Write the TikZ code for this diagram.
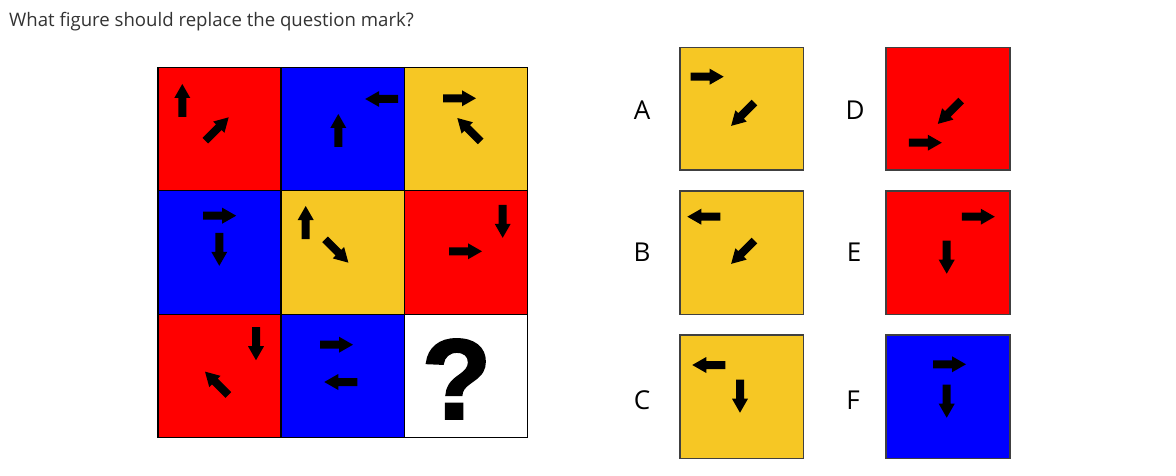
\documentclass[tikz,border=0pt]{standalone}
\usepackage{fontspec}
\setmainfont{Open Sans}
\newfontfamily\qfont[BoldFeatures={FakeBold=2}]{Liberation Sans}
\definecolor{cred}{HTML}{FF0000}
\definecolor{cblue}{HTML}{0000FF}
\definecolor{cyel}{HTML}{F6C724}
\definecolor{ctitle}{HTML}{333333}
\newcommand\arw[3]{\fill[black,shift={(#1,#2)},rotate=#3] (-16.5,-4)--(2.5,-4)--(2.5,-8)--(16.5,0)--(2.5,8)--(2.5,4)--(-16.5,4)--cycle;}
\begin{document}
\begin{tikzpicture}[x=1pt,y=-1pt,
  cell/.style={draw=black,line width=1.6pt},
  opt/.style={draw=black!75,line width=1.4pt},
  lab/.style={font=\fontsize{26}{26}\selectfont},
]
\useasboundingbox (0,0) rectangle (1176,476);
\fill[white] (0,0) rectangle (1176,476);
\node[anchor=west,text=ctitle,font=\fontsize{18.6}{20}\selectfont,inner sep=0pt] (title) at (9,22) {What figure should replace the question mark?};
% grid cells
\fill[cred]  (158,67.5) rectangle (281,190.7);
\fill[cblue] (281,67.5) rectangle (404.5,190.7);
\fill[cyel]  (404.5,67.5) rectangle (527.5,190.7);
\fill[cblue] (158,190.7) rectangle (281,314.3);
\fill[cyel]  (281,190.7) rectangle (404.5,314.3);
\fill[cred]  (404.5,190.7) rectangle (527.5,314.3);
\fill[cred]  (158,314.3) rectangle (281,437.5);
\fill[cblue] (281,314.3) rectangle (404.5,437.5);
\fill[white] (404.5,314.3) rectangle (527.5,437.5);
\draw[cell] (158,67.5) rectangle (527.5,437.5);
\draw[cell] (281,67.5) -- (281,437.5) (404.5,67.5) -- (404.5,437.5)
            (158,190.7) -- (527.5,190.7) (158,314.3) -- (527.5,314.3);
% row 1
\arw{182.3}{100.5}{90}
\arw{217}{129}{45}
\arw{381.7}{99}{180}
\arw{338.3}{130.5}{90}
\arw{459.5}{98.3}{0}
\arw{469}{129.7}{135}
% row 2
\arw{219.7}{215.7}{0}
\arw{219.3}{249.3}{270}
\arw{305.7}{222.5}{90}
\arw{336.7}{251}{315}
\arw{502.7}{221.3}{270}
\arw{465.5}{251.3}{0}
% row 3
\arw{256}{343.7}{270}
\arw{216.7}{383.3}{135}
\arw{336.5}{344.7}{0}
\arw{340.8}{382}{180}
\node[font=\qfont\bfseries\fontsize{114}{114}\selectfont,inner sep=0pt] (qm) at (456.5,379) {?};
% options
\fill[cyel] (680,47.3) rectangle (803.3,170);
\draw[opt] (680,47.3) rectangle (803.3,170);
\fill[cred] (886,47.3) rectangle (1010,170);
\draw[opt] (886,47.3) rectangle (1010,170);
\fill[cyel] (680,191) rectangle (803.3,314.3);
\draw[opt] (680,191) rectangle (803.3,314.3);
\fill[cred] (886,191) rectangle (1010,314.3);
\draw[opt] (886,191) rectangle (1010,314.3);
\fill[cyel] (680,335) rectangle (803.3,458.3);
\draw[opt] (680,335) rectangle (803.3,458.3);
\fill[cblue] (886,335) rectangle (1010,458.3);
\draw[opt] (886,335) rectangle (1010,458.3);
% A
\arw{707.2}{76.7}{0}
\arw{742.8}{114.2}{225}
% D
\arw{949.5}{112.2}{225}
\arw{925.3}{142.7}{0}
% B
\arw{703.8}{216.7}{180}
\arw{742.8}{252.2}{225}
% E
\arw{978.3}{216.7}{0}
\arw{946.7}{257.2}{270}
% C
\arw{708.8}{365}{180}
\arw{740}{396.2}{270}
% F
\arw{949.5}{364.3}{0}
\arw{946.7}{401.2}{270}
% labels
\node[lab] (lA) at (642,110) {A};
\node[lab] (lD) at (855,110) {D};
\node[lab] (lB) at (642,252) {B};
\node[lab] (lE) at (854,252) {E};
\node[lab] (lC) at (642,400) {C};
\node[lab] (lF) at (853,400) {F};
\end{tikzpicture}
\end{document}
